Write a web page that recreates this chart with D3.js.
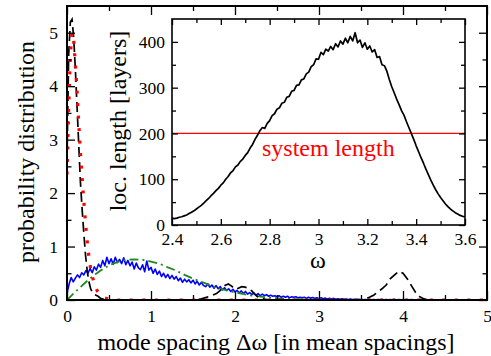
<!DOCTYPE html>
<html><head><meta charset="utf-8">
<script src="https://cdn.jsdelivr.net/npm/d3@7"></script>
<style>
body{margin:0;background:#fff;}
svg text{font-family:'Liberation Serif','Tinos','Times New Roman','DejaVu Serif',serif !important;}
</style></head>
<body><svg id="c" width="491" height="356"></svg>
<script>
// ---------- data ----------
const mainXTicks = [0,1,2,3,4,5];
const mainYTicks = [0,1,2,3,4,5];
const insetXTicks = [2.4,2.6,2.8,3.0,3.2,3.4,3.6];
const insetXTickLabels = ["2.4","2.6","2.8","3","3.2","3.4","3.6"];
const insetYTicks = [0,100,200,300,400];

// black dashed: [spacing, probability]
const blackX = [0,0.02,0.04,0.06,0.08,0.1,0.12,0.14,0.16,0.18,0.2,0.22,0.24,0.26,0.28,0.3,0.33,0.37,0.4,0.45,0.5,1.0,1.5,1.6,1.66,1.72,1.78,1.84,1.88,1.92,1.96,2.0,2.04,2.08,2.12,2.16,2.2,2.24,2.28,2.34,2.4,3.0,3.5,3.55,3.6,3.65,3.7,3.75,3.8,3.85,3.9,3.95,4.0,4.05,4.1,4.15,4.2,4.25,4.3,5.0];
const blackY = [2.6,4.6,5.2,5.25,4.9,4.3,3.6,2.9,2.2,1.7,1.25,0.85,0.55,0.35,0.22,0.15,0.1,0.07,0.03,0.01,0,0,0,0.02,0.05,0.08,0.12,0.2,0.27,0.3,0.26,0.2,0.22,0.25,0.24,0.22,0.17,0.1,0.05,0.02,0,0,0,0.02,0.05,0.09,0.15,0.21,0.28,0.4,0.47,0.54,0.5,0.4,0.27,0.14,0.06,0.02,0,0];

// red dotted
const redX = [0,0.02,0.04,0.06,0.08,0.1,0.12,0.14,0.16,0.18,0.2,0.22,0.24,0.26,0.28,0.3,0.33,0.36,0.4,0.45,0.5,0.6,5.0];
const redY = [2.35,3.6,4.6,5.0,4.85,4.4,3.9,3.3,2.75,2.3,1.85,1.45,1.1,0.82,0.6,0.45,0.28,0.17,0.09,0.04,0.015,0,0];

// green dash-dot
const greenX = [0,0.1,0.2,0.3,0.4,0.5,0.6,0.7,0.8,0.9,1.0,1.1,1.2,1.3,1.4,1.5,1.6,1.7,1.8,1.9,2.0,2.2,2.4,2.6,2.8,3.0,3.5,5.0];
const greenY = [0,0.155,0.3,0.44,0.55,0.65,0.71,0.75,0.76,0.75,0.72,0.68,0.61,0.55,0.47,0.4,0.34,0.28,0.22,0.18,0.14,0.08,0.045,0.02,0.01,0.005,0,0];

// blue histogram, spacing step 0.025 starting at 0
const blueStep = 0.025;
const blueY = [0.12,0.30,0.42,0.34,0.41,0.47,0.42,0.51,0.47,0.55,0.50,0.59,0.51,0.62,0.56,0.67,0.61,0.74,0.64,0.80,
0.68,0.77,0.67,0.80,0.70,0.76,0.68,0.79,0.66,0.74,0.64,0.71,0.58,0.69,0.60,0.57,0.66,0.53,0.73,0.56,
0.61,0.50,0.58,0.48,0.54,0.44,0.50,0.42,0.48,0.40,0.46,0.39,0.44,0.36,0.41,0.33,0.39,0.34,0.38,0.32,
0.37,0.30,0.35,0.28,0.33,0.27,0.25,0.30,0.24,0.28,0.22,0.27,0.21,0.25,0.19,0.23,0.18,0.21,0.16,0.20,
0.15,0.18,0.13,0.17,0.12,0.16,0.11,0.14,0.10,0.13,0.09,0.12,0.08,0.11,0.08,0.10,0.07,0.09,0.07,0.08,
0.06,0.08,0.05,0.07,0.05,0.07,0.04,0.06,0.05,0.06,0.04,0.05,0.04,0.05,0.03,0.05,0.035,0.045,0.03,0.04,
0.025,0.04,0.025,0.035,0.02,0.03,0.02,0.03,0.015,0.025,0.015,0.025,0.015,0.02,0.01,0.02,0.01,0.015,0.01,0.015,
0.01,0.005,0.01,0.005,0.012,0.005,0.01,0.004,0.008,0.005,0.01,0.004,0.008,0.005,0.01,0.004,0.008,0.005,0.008,0.004,
0.008,0.004,0.007,0.004,0.008,0.004,0.006,0.003,0.007,0.004,0.006,0.003,0.006,0.003,0.006,0.003,0.005,0.003,0.005,0.002,
0.005,0.002,0.004,0.002,0.004,0.002,0.004,0.002,0.004,0.002,0.003];

// inset: localization length vs omega, step 0.01 from 2.40
const insetStart = 2.4, insetStep = 0.01;
const locLen = [15,14,15,17,18,20,22,25,28,31,
35,39,43,48,53,58,64,69,75,80,
87,92,100,106,114,119,127,131,139,144,
152,158,168,176,187,196,206,213,211,222,
228,239,243,253,256,266,268,279,281,292,
294,305,306,317,319,330,334,346,350,363,
362,377,372,384,380,390,383,396,389,402,
395,408,398,412,402,420,398,404,388,398,
384,391,378,383,366,368,350,348,336,318,
302,289,275,263,250,240,226,213,200,187,
173,160,147,135,122,110,98,87,77,68,
60,53,46,40,35,31,27,24,21,19,18];
const systemLength = 200;

// ---------- drawing ----------
const FONT = "'Liberation Serif','Tinos','Times New Roman','DejaVu Serif',serif";
const svg = d3.select("#c");
const M = {l:67, r:487, t:6, b:300};
const x = d3.scaleLinear().domain([0,5]).range([M.l,M.r]);
const y = d3.scaleLinear().domain([0,5.5]).range([M.b,M.t]);

svg.append("defs").append("clipPath").attr("id","mclip")
  .append("rect").attr("x",M.l).attr("y",M.t).attr("width",M.r-M.l).attr("height",M.b-M.t);

const g = svg.append("g").attr("clip-path","url(#mclip)");
const line = d3.line().x(d=>x(d[0])).y(d=>y(d[1]));

const blue = blueY.map((v,i)=>[i*blueStep, v]);
const green = greenX.map((v,i)=>[v, greenY[i]]);
const black = blackX.map((v,i)=>[v, blackY[i]]);
const red = redX.map((v,i)=>[v, redY[i]]);

g.append("path").attr("d",line(blue)).attr("fill","none").attr("stroke","#0000ff").attr("stroke-width",1.6).attr("stroke-linejoin","round");
g.append("path").attr("d",line(green)).attr("fill","none").attr("stroke","#1f8a1f").attr("stroke-width",1.8).attr("stroke-dasharray","9,4,2,4");
g.append("path").attr("d",line(black)).attr("fill","none").attr("stroke","#000").attr("stroke-width",1.7).attr("stroke-dasharray","10,5");
g.append("path").attr("d",line(red)).attr("fill","none").attr("stroke","#ff0000").attr("stroke-width",3.2).attr("stroke-dasharray","3,9.5");

// main axes
function styleAxis(sel){
  sel.attr("font-family",FONT);
  sel.select(".domain").remove();
  sel.selectAll("line").attr("stroke","#000").attr("stroke-width",1.3);
  sel.selectAll("text").attr("font-size","17.5px").attr("fill","#000").attr("font-family",FONT);
}
const half = [0.5,1.5,2.5,3.5,4.5];
svg.append("g").attr("transform",`translate(0,${M.b})`).call(d3.axisBottom(x).tickValues(mainXTicks).tickFormat(d3.format("d")).tickSize(-9).tickPadding(10)).call(styleAxis);
svg.append("g").attr("transform",`translate(0,${M.b})`).call(d3.axisBottom(x).tickValues(half).tickFormat("").tickSize(-5)).call(styleAxis);
svg.append("g").attr("transform",`translate(0,${M.t})`).call(d3.axisTop(x).tickValues(mainXTicks).tickFormat("").tickSize(-9)).call(styleAxis);
svg.append("g").attr("transform",`translate(0,${M.t})`).call(d3.axisTop(x).tickValues(half).tickFormat("").tickSize(-5)).call(styleAxis);
svg.append("g").attr("transform",`translate(${M.l},0)`).call(d3.axisLeft(y).tickValues(mainYTicks).tickFormat(d3.format("d")).tickSize(-8).tickPadding(9)).call(styleAxis);
svg.append("g").attr("transform",`translate(${M.l},0)`).call(d3.axisLeft(y).tickValues(half).tickFormat("").tickSize(-4.5)).call(styleAxis);
svg.append("g").attr("transform",`translate(${M.r},0)`).call(d3.axisRight(y).tickValues(mainYTicks).tickFormat("").tickSize(-8)).call(styleAxis);
svg.append("g").attr("transform",`translate(${M.r},0)`).call(d3.axisRight(y).tickValues(half).tickFormat("").tickSize(-4.5)).call(styleAxis);
svg.append("rect").attr("x",M.l).attr("y",M.t).attr("width",M.r-M.l).attr("height",M.b-M.t).attr("fill","none").attr("stroke","#000").attr("stroke-width",2);

svg.append("text").attr("x",276).attr("y",350).attr("text-anchor","middle").attr("font-size","24px").attr("font-family",FONT).text("mode spacing Δω [in mean spacings]");
svg.append("text").attr("transform","translate(34,152) rotate(-90)").attr("text-anchor","middle").attr("font-size","24px").attr("font-family",FONT).text("probability distribution");

// ---------- inset ----------
const I = {l:172, r:465, t:19, b:225};
const xi = d3.scaleLinear().domain([2.4,3.6]).range([I.l,I.r]);
const yi = d3.scaleLinear().domain([0,450]).range([I.b,I.t]);
svg.append("rect").attr("x",I.l).attr("y",I.t).attr("width",I.r-I.l).attr("height",I.b-I.t).attr("fill","#fff");
svg.append("defs").append("clipPath").attr("id","iclip")
  .append("rect").attr("x",I.l).attr("y",I.t).attr("width",I.r-I.l).attr("height",I.b-I.t);
const gi = svg.append("g").attr("clip-path","url(#iclip)");
gi.append("line").attr("x1",I.l).attr("x2",I.r).attr("y1",yi(systemLength)).attr("y2",yi(systemLength)).attr("stroke","#ff0000").attr("stroke-width",1.3);
const loc = locLen.map((v,i)=>[insetStart+i*insetStep, v]);
gi.append("path").attr("d",d3.line().x(d=>xi(d[0])).y(d=>yi(d[1]))(loc)).attr("fill","none").attr("stroke","#000").attr("stroke-width",1.7).attr("stroke-linejoin","round");

const ixMinor = [2.5,2.7,2.9,3.1,3.3,3.5];
const iyMinor = [50,150,250,350];
const fmtI = (d)=>insetXTickLabels[insetXTicks.findIndex(t=>Math.abs(t-d)<1e-9)];
svg.append("g").attr("transform",`translate(0,${I.b})`).call(d3.axisBottom(xi).tickValues(insetXTicks).tickFormat(fmtI).tickSize(-6).tickPadding(8)).call(styleAxis);
svg.append("g").attr("transform",`translate(0,${I.b})`).call(d3.axisBottom(xi).tickValues(ixMinor).tickFormat("").tickSize(-4)).call(styleAxis);
svg.append("g").attr("transform",`translate(0,${I.t})`).call(d3.axisTop(xi).tickValues(insetXTicks).tickFormat("").tickSize(-6)).call(styleAxis);
svg.append("g").attr("transform",`translate(0,${I.t})`).call(d3.axisTop(xi).tickValues(ixMinor).tickFormat("").tickSize(-4)).call(styleAxis);
svg.append("g").attr("transform",`translate(${I.l},0)`).call(d3.axisLeft(yi).tickValues(insetYTicks).tickFormat(d3.format("d")).tickSize(-6).tickPadding(7)).call(styleAxis);
svg.append("g").attr("transform",`translate(${I.l},0)`).call(d3.axisLeft(yi).tickValues(iyMinor).tickFormat("").tickSize(-4)).call(styleAxis);
svg.append("g").attr("transform",`translate(${I.r},0)`).call(d3.axisRight(yi).tickValues(insetYTicks).tickFormat("").tickSize(-6)).call(styleAxis);
svg.append("g").attr("transform",`translate(${I.r},0)`).call(d3.axisRight(yi).tickValues(iyMinor).tickFormat("").tickSize(-4)).call(styleAxis);
svg.append("rect").attr("x",I.l).attr("y",I.t).attr("width",I.r-I.l).attr("height",I.b-I.t).attr("fill","none").attr("stroke","#000").attr("stroke-width",1.6);

svg.append("text").attr("x",318).attr("y",268).attr("text-anchor","middle").attr("font-size","24px").attr("font-family",FONT).text("ω");
svg.append("text").attr("transform","translate(126,121) rotate(-90)").attr("text-anchor","middle").attr("font-size","24px").attr("font-family",FONT).text("loc. length [layers]");
svg.append("text").attr("x",262).attr("y",156).attr("fill","#ff0000").attr("font-size","24px").attr("font-family",FONT).text("system length");
</script></body></html>
